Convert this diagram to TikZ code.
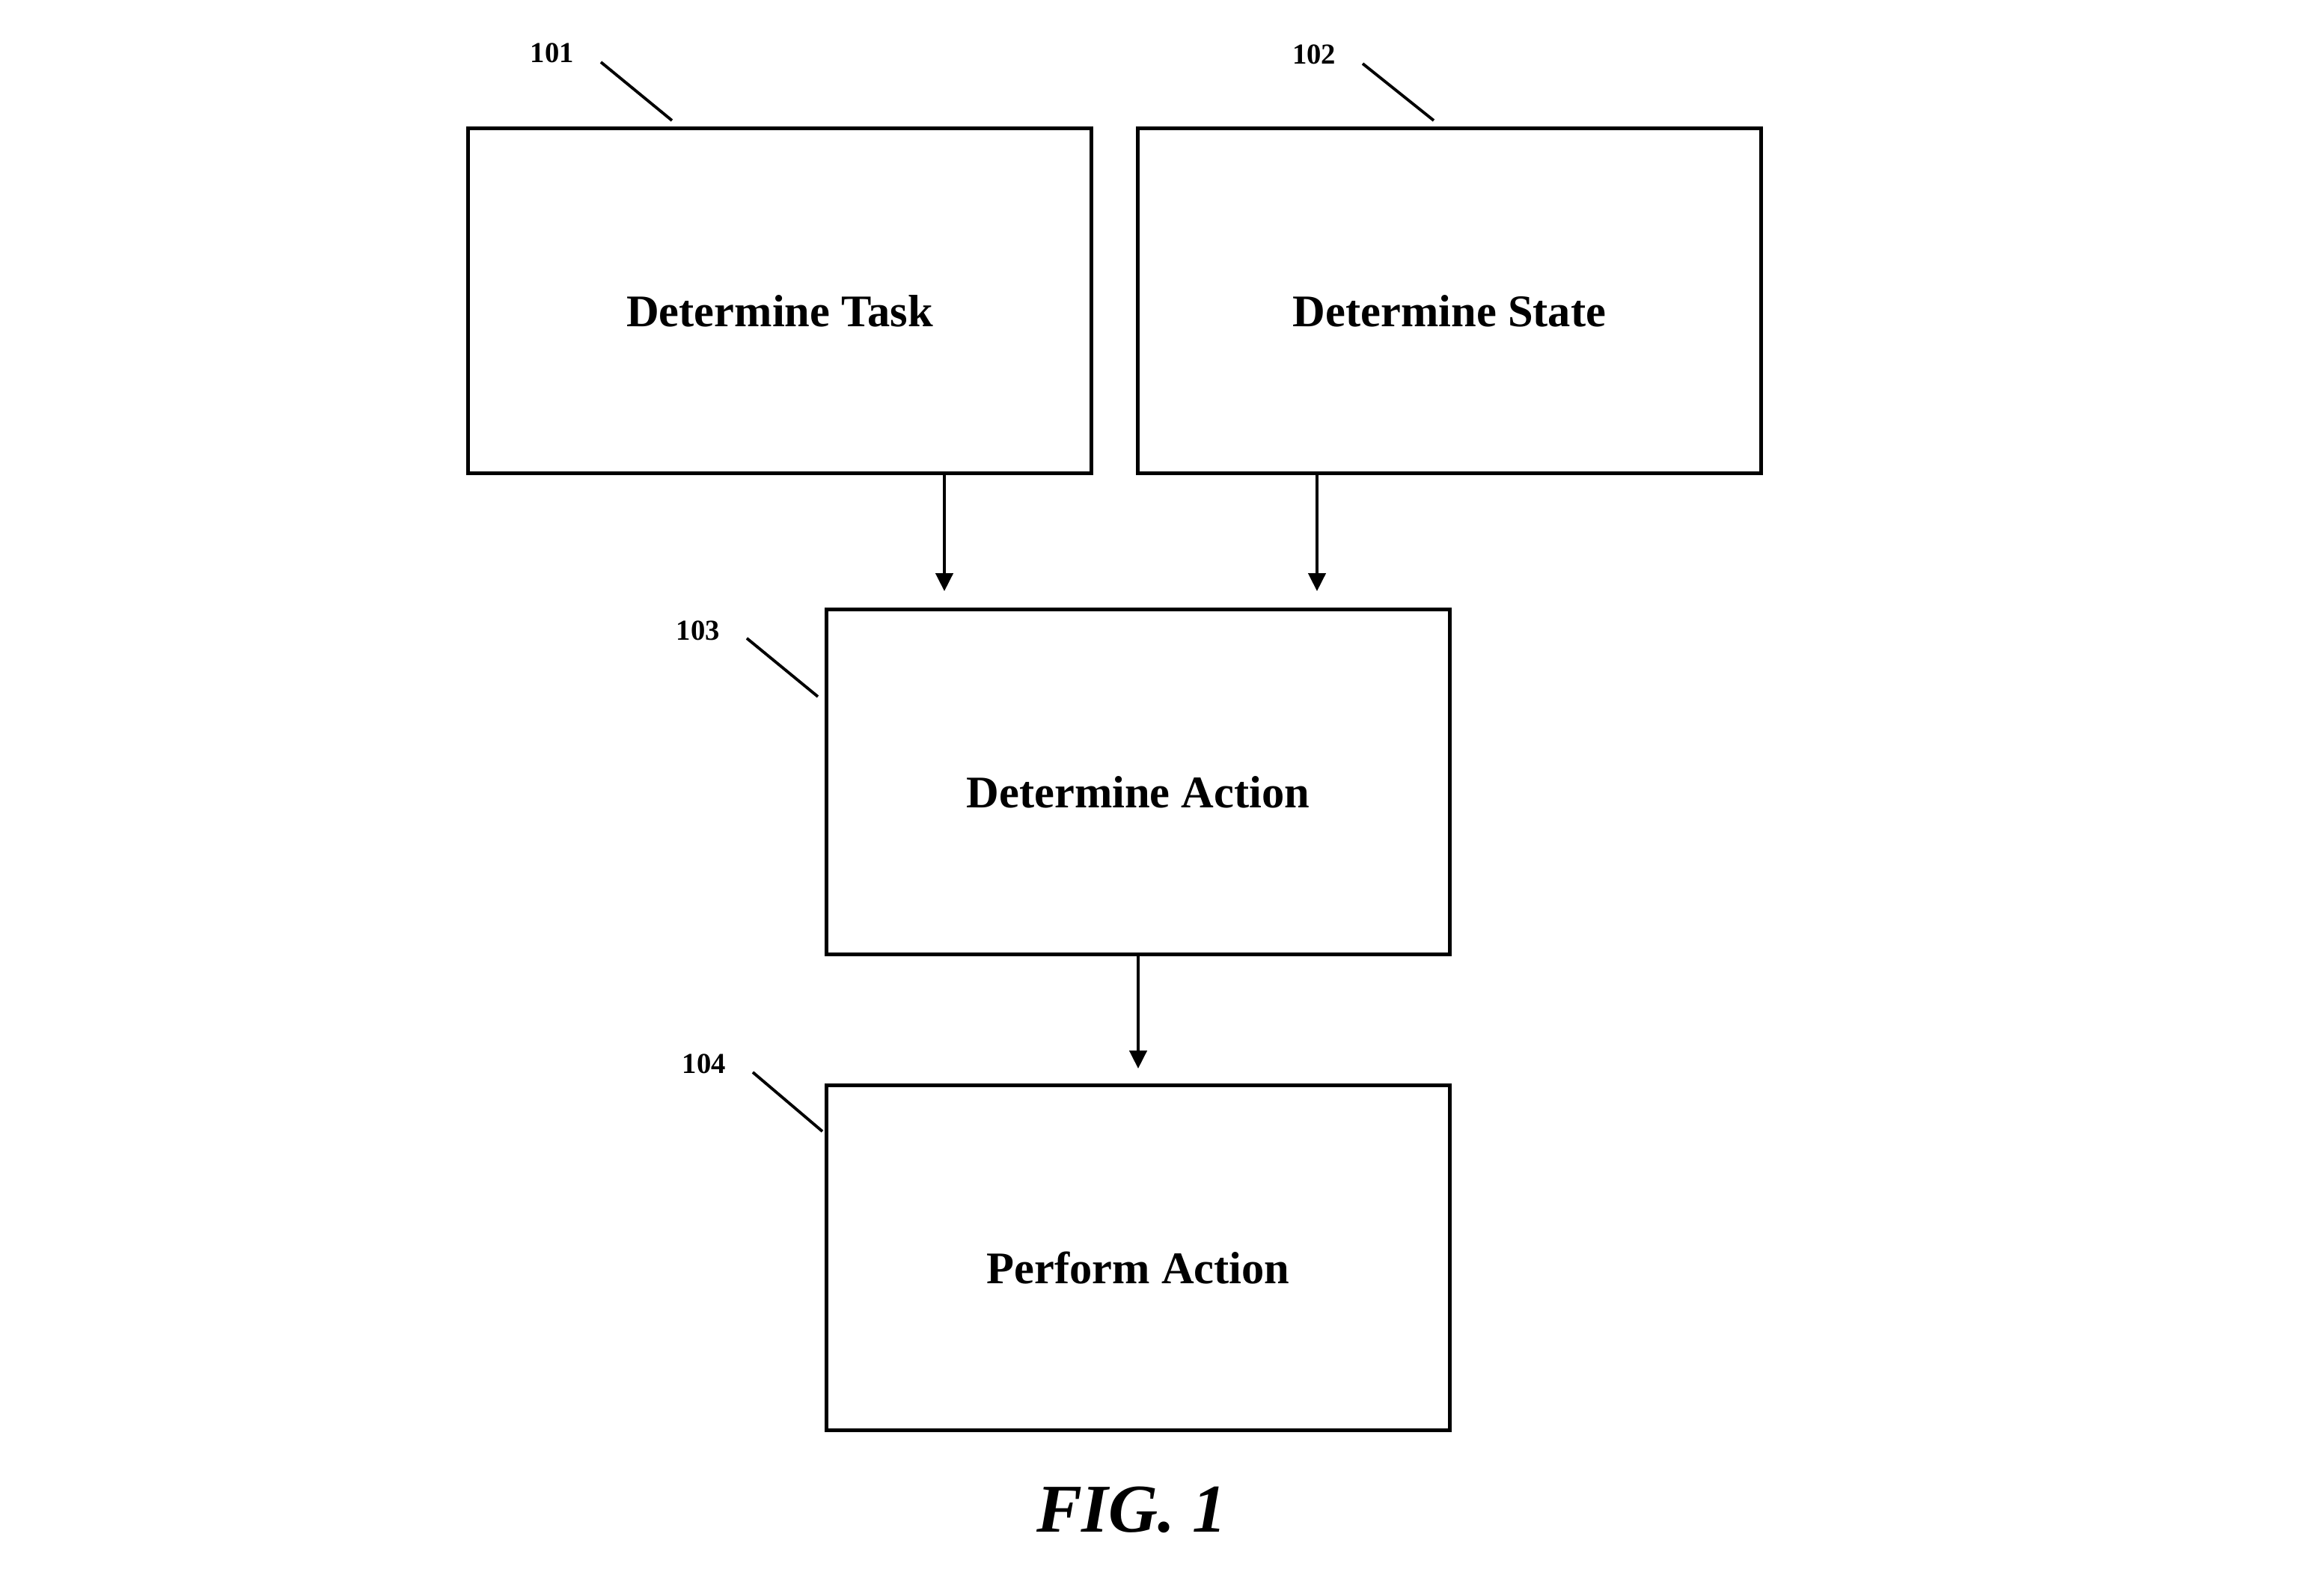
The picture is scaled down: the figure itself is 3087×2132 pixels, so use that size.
\documentclass[tikz,border=0pt]{standalone}
\usepackage{fontspec}
\setmainfont{Liberation Serif}
\usetikzlibrary{arrows.meta}
\tikzset{
  stepbox/.style={draw, line width=1.3pt, minimum width=8.33cm, minimum height=4.61cm,
    text height=0.68cm, text depth=0cm,
    font=\fontsize{17.2pt}{20pt}\selectfont\bfseries},
  reflabel/.style={font=\fontsize{11pt}{13pt}\selectfont\bfseries},
  leader/.style={line width=1.1pt},
  flow/.style={line width=1.2pt, -{Triangle[length=0.24cm,width=0.23cm]}}
}
\begin{document}
\begin{tikzpicture}[x=0.01cm,y=-0.01cm]
  % Frame
  \useasboundingbox (0,0) rectangle (3087,2132);
  % Boxes
  \node[stepbox] (task) at (1042,402) {Determine Task};
  \node[stepbox] (state) at (1937,402) {Determine State};
  \node[stepbox] (action) at (1521,1045) {Determine Action};
  \node[stepbox] (perform) at (1521,1681) {Perform Action};
  % Reference numerals
  \node[reflabel] (n101) at (738,71) {101};
  \node[reflabel] (n102) at (1756,73) {102};
  \node[reflabel] (n103) at (933,843) {103};
  \node[reflabel] (n104) at (941,1422) {104};
  \coordinate (a101) at (803,83);  \coordinate (b101) at (898,161);
  \coordinate (a102) at (1821,85); \coordinate (b102) at (1916,161);
  \coordinate (a103) at (998,853); \coordinate (b103) at (1093,931);
  \coordinate (a104) at (1006,1433); \coordinate (b104) at (1099,1512);
  \draw[leader] (a101) -- (b101);
  \draw[leader] (a102) -- (b102);
  \draw[leader] (a103) -- (b103);
  \draw[leader] (a104) -- (b104);
  % Arrows
  \coordinate (xt) at (1262,0);
  \coordinate (xs) at (1760,0);
  \draw[flow, shorten >=0.22cm] (task.south -| xt) -- (action.north -| xt);
  \draw[flow, shorten >=0.22cm] (state.south -| xs) -- (action.north -| xs);
  \draw[flow, shorten >=0.2cm] (action) -- (perform);
  % Caption
  \node[font=\fontsize{26pt}{30pt}\selectfont\bfseries\itshape] (fig) at (1512,2018) {FIG. 1};
\end{tikzpicture}
\end{document}
